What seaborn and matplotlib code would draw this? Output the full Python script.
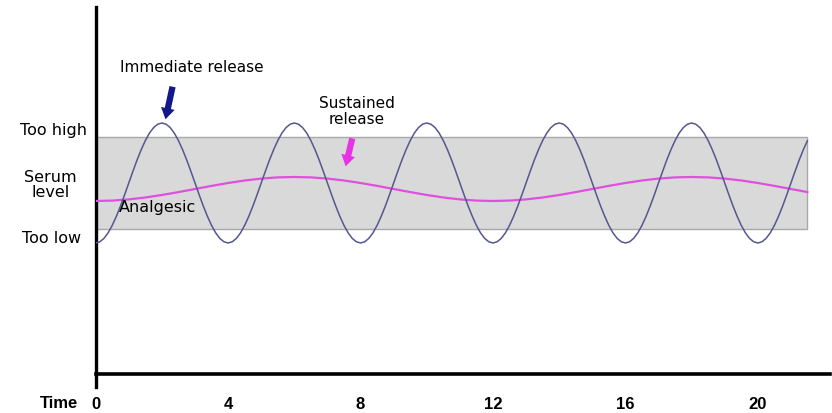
import numpy as np
import pandas as pd
import matplotlib
matplotlib.use("Agg")
import matplotlib.pyplot as plt
import seaborn as sns

# Serum level (x axis = 0, arbitrary units), one sample every 0.125 time units
one_cycle = [13.10, 13.22, 13.56, 14.11, 14.86, 15.77, 16.80, 17.93,
             19.10, 20.27, 21.40, 22.43, 23.34, 24.09, 24.64, 24.98,
             25.10, 24.98, 24.64, 24.09, 23.34, 22.43, 21.40, 20.27,
             19.10, 17.93, 16.80, 15.77, 14.86, 14.11, 13.56, 13.22]
last_rise = [13.10, 13.22, 13.56, 14.11, 14.86, 15.77, 16.80, 17.93,
             19.10, 20.27, 21.40, 22.43, 23.34]
immediate_level = one_cycle * 5 + last_rise
immediate_time = np.arange(len(immediate_level)) * 0.125

sustained_level = [17.30, 17.34, 17.46, 17.65, 17.90, 18.19, 18.50, 18.81, 19.10, 19.35,
                   19.54, 19.66, 19.70, 19.66, 19.54, 19.35, 19.10, 18.81, 18.50, 18.19,
                   17.90, 17.65, 17.46, 17.34, 17.30, 17.34, 17.46, 17.65, 17.90, 18.19,
                   18.50, 18.81, 19.10, 19.35, 19.54, 19.66, 19.70, 19.66, 19.54, 19.35,
                   19.10, 18.81, 18.50, 18.19]
sustained_time = np.arange(len(sustained_level)) * 0.5

too_low = 14.5
too_high = 23.67
band_end = 21.5
time_ticks = [0, 4, 8, 12, 16, 20]

df_imm = pd.DataFrame({"time": immediate_time, "level": immediate_level})
df_sus = pd.DataFrame({"time": sustained_time, "level": sustained_level})

sns.set_style("white")
plt.rcParams["font.family"] = ["DejaVu Sans"]
plt.rcParams["text.color"] = "black"

fig = plt.figure(figsize=(8.32, 4.14), dpi=100)
ax = fig.add_axes([0.115, 0.0628, 0.8826, 0.9172])

# therapeutic window
ax.fill_between([0, band_end], too_low, too_high, facecolor="#d9d9d9",
                edgecolor="#a8a8a8", linewidth=1.0, zorder=1)

sns.lineplot(data=df_sus, x="time", y="level", ax=ax, color="#e04fe0", lw=1.6, zorder=3)
sns.lineplot(data=df_imm, x="time", y="level", ax=ax, color="#565690", lw=1.1, zorder=4)

# spines first: set_position resets the ticks
ax.spines["bottom"].set_position(("data", 0))
ax.spines["bottom"].set_linewidth(2.6)
ax.spines["left"].set_linewidth(2.4)
ax.spines["top"].set_visible(False)
ax.spines["right"].set_visible(False)
for s in ("bottom", "left"):
    ax.spines[s].set_color("black")

ax.set_xlim(0, 22.18)
ax.set_ylim(-1.3, 36.67)
ax.set_xlabel("")
ax.set_ylabel("")
ax.set_yticks([])
ax.set_xticks(time_ticks)
ax.tick_params(axis="x", direction="inout", length=13, width=2, pad=9, colors="black")
ax.set_xticklabels([str(t) for t in time_ticks], fontweight="bold", fontsize=12,
                   family=["Liberation Sans"], fontstretch="condensed")

ax.text(-1.11, -2.8, "Time", ha="center", va="center", fontsize=12, fontweight="bold",
        family=["Liberation Sans"], fontstretch="condensed", clip_on=False)

# left side labels
ax.text(-1.26, 24.43, "Too high", ha="center", va="center", fontsize=11.5, clip_on=False)
ax.text(-1.36, 19.0, "Serum\nlevel", ha="center", va="center", fontsize=11.5,
        linespacing=1.0, clip_on=False)
ax.text(-1.32, 13.67, "Too low", ha="center", va="center", fontsize=11.5, clip_on=False)

ax.text(1.86, 16.7, "Analgesic", ha="center", va="center", fontsize=11.5, zorder=5)
ax.text(2.91, 30.7, "Immediate release", ha="center", va="center", fontsize=11)
ax.text(7.89, 26.35, "Sustained\nrelease", ha="center", va="center", fontsize=11,
        linespacing=1.05)

# arrows
ax.annotate("", xy=(2.09, 25.2), xytext=(2.34, 29.0),
            arrowprops=dict(arrowstyle="simple,head_width=1.0,head_length=0.8,tail_width=0.45",
                            color="#10188a", lw=0), zorder=6)
ax.annotate("", xy=(7.53, 20.5), xytext=(7.77, 23.83),
            arrowprops=dict(arrowstyle="simple,head_width=1.0,head_length=0.8,tail_width=0.45",
                            color="#e633e6", lw=0), zorder=6)

fig.savefig("out.png", dpi=100)
